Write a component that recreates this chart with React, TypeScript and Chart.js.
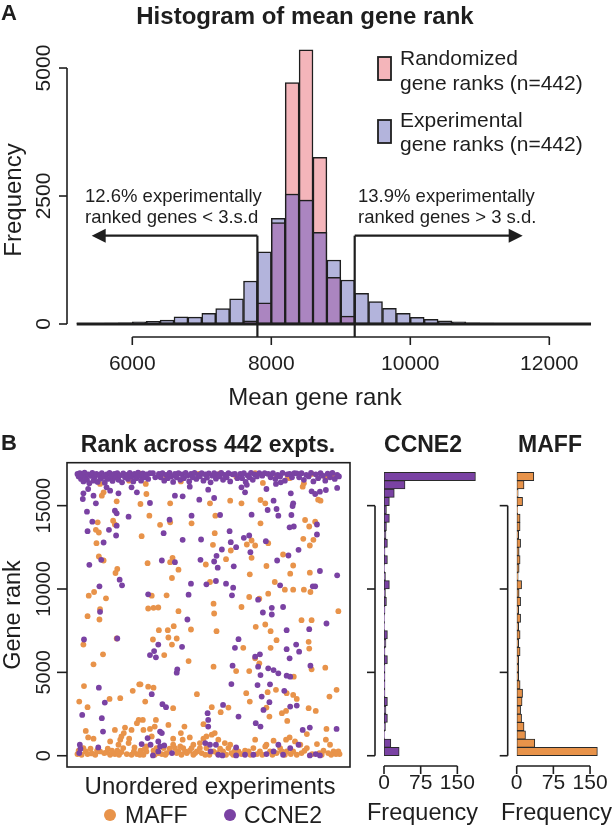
import React, { useEffect, useRef } from "react";
import { Chart, registerables } from "chart.js";

Chart.register(...registerables);

// ---------------- DATA ----------------
// Panel A: histogram of mean gene rank (bin width 200)
const histBinWidth = 200;
const histBinStarts = [
  5200, 5400, 5600, 5800, 6000, 6200, 6400, 6600, 6800, 7000, 7200, 7400, 7600,
  7800, 8000, 8200, 8400, 8600, 8800, 9000, 9200, 9400, 9600, 9800, 10000, 10200,
  10400, 10600, 10800, 11000, 11200, 11400, 11600, 11800, 12000, 12200, 12400,
];
const experimentalFreq = [
  8, 10, 18, 25, 40, 50, 75, 140, 135, 210, 300, 490, 840,
  1410, 2065, 2540, 2420, 1790, 1250, 860, 600, 436, 306, 208, 130, 91,
  60, 40, 25, 18, 14, 11, 9, 7, 6, 5, 4,
];
const randomizedFreq = [
  0, 0, 0, 0, 0, 0, 0, 0, 3, 6, 12, 25, 60,
  415, 1980, 4715, 5355, 3255, 910, 155, 20, 6, 3, 2, 1, 0,
  0, 0, 0, 0, 0, 0, 0, 0, 0, 0, 0,
];
const histXTicks = [6000, 8000, 10000, 12000];
const histYTicks = [0, 2500, 5000];
const cutLow = 7800;
const cutHigh = 9200;
const arrowLevel = 1725;
const arrowTipLow = 5416;
const arrowTipHigh = 11617;

// Panel B: ranks of two genes across 442 experiments  [experiment, rank]
const ccne2TopBand = [
  [1,16900],[3,16750],[5,16950],[7,16600],[9,16820],[11,16450],[13,16980],[15,16700],[17,16550],[19,16880],
  [21,16350],[24,16780],[26,16960],[28,16500],[30,16700],[33,16900],[35,16420],[38,16830],[40,16620],[42,16950],
  [45,16720],[47,16380],[50,16880],[52,16600],[55,16970],[58,16750],[60,16480],[63,16900],[65,16680],[68,16950],
  [70,16550],[73,16820],[76,16400],[78,16930],[81,16700],[84,16850],[86,16600],[89,16960],[92,16750],[95,16450],
  [97,16900],[100,16650],[103,16980],[106,16800],[108,16500],[111,16930],[114,16700],[117,16870],[120,16600],[123,16950],
  [128,16950],[132,16700],[138,16900],[141,16700],[144,16950],[147,16500],[150,16850],[153,16650],[156,16960],[159,16750],
  [162,16420],[165,16900],[168,16700],[171,16950],[174,16550],[177,16880],[180,16650],[183,16970],[186,16800],[189,16450],
  [192,16900],[195,16700],[198,16960],[201,16600],[204,16850],[207,16750],[210,16950],[213,16500],[216,16880],[219,16680],
  [222,16940],[225,16400],[228,16800],[231,16950],[234,16620],[237,16880],[240,16750],[243,16960],[246,16550],[249,16850],
  [252,16700],[255,16950],[258,16450],[262,16880],[266,16900],[270,16650],[275,16900],[278,16650],[281,16950],[284,16420],
  [287,16820],[290,16700],[293,16960],[296,16550],[299,16880],[303,16750],[307,16950],[312,16800],[316,16950],[322,16900],
  [326,16700],[330,16950],[334,16600],[338,16850],[342,16750],[346,16960],[350,16500],[354,16880],[358,16900],[362,16700],
  [366,16950],[370,16930],[374,16700],[378,16950],[382,16550],[386,16850],[390,16750],[394,16960],[398,16450],[402,16880],
  [406,16650],[410,16950],[414,16800],[418,16500],[422,16920],[426,16700],[430,16960],[434,16600],[438,16850],[441,16750],
  [277,16100],[283,15800],[286,16250],[11,15740],[19,16000],[28,15600],[50,16100],[92,16100],
];
const ccne2Scattered = [
  [10,15400],[32,15140],[17,14640],[64,14700],[67,14540],[87,14340],[26,14040],[67,13800],[18,13470],[54,13550],
  [66,13210],[45,12790],[41,11750],[21,11450],[72,10560],[76,10220],[38,10160],[70,15740],[101,15800],[56,15900],
  [39,8630],[12,6970],[68,7030],[37,4080],[47,3190],[9,2450],[42,2250],[44,1450],[5,660],[6,420],[4,160],[36,500],
  [123,15160],[165,15600],[178,15560],[206,15360],[190,16140],[221,15960],[231,15460],[193,14400],[156,14160],[241,14440],
  [146,13350],[178,12950],[209,12970],[257,13470],[259,12810],[268,12510],[244,12370],[235,11990],[231,11650],[237,11280],
  [208,11750],[264,11360],[143,11710],[165,11610],[192,10320],[218,10280],[234,10480],[251,10320],[263,10080],[261,9620],
  [120,9680],[188,9660],
  [186,8170],[137,6670],[130,6280],[123,6040],[133,5900],[177,6530],[169,5180],[168,4980],[266,6470],[272,6990],
  [262,5400],[260,4300],[126,3690],[144,3090],[150,2910],[246,3050],[272,2350],[220,2550],[221,2150],[221,1750],
  [140,1450],[143,1360],[119,1060],[109,700],[124,660],[137,860],[140,560],[147,620],[216,760],[224,660],
  [234,660],[225,260],[238,60],[245,20],[268,500],[268,20],[160,160],[128,20],[137,260],
  [335,16300],[343,16400],[319,16000],[360,15740],[331,15300],[321,14740],[336,14800],[364,15140],[363,14980],[294,14460],
  [339,14400],[361,14440],[395,15860],[401,15700],[409,15840],[419,15940],[438,16060],[358,13700],[365,13750],[404,13870],
  [404,13270],[281,13070],[318,12870],[292,12210],[373,12350],[337,11710],[356,12010],[409,11080],[438,10820],[342,10220],
  [397,10160],[401,10160],[305,9360],[290,13210],
  [313,8590],[328,8870],[328,8470],[347,8920],[353,7530],[391,7590],[420,7930],[369,6670],[374,6240],[353,6390],
  [358,5840],[300,5940],[308,6080],[393,5400],[305,5340],[309,4840],[322,5240],[331,5140],[339,4940],[353,4800],
  [359,4740],[304,4240],[325,4280],[311,3550],[324,3210],[314,2750],[349,3890],[359,2950],[370,3010],[301,1950],
  [309,1750],[380,1550],[392,1690],[437,1610],[339,660],[359,460],[373,660],[319,100],[331,260],[347,60],
  [392,20],[402,100],[409,20],[297,60],[283,60],
];
const maffTopBand = [
  [241,16930],[30,16850],[62,16700],[104,16950],[150,16800],[205,16900],[268,16750],[300,16950],
  [336,16800],[358,16650],[395,16900],[418,16700],[432,16850],[175,16450],[88,16500],
];
const maffScattered = [
  [39,16300],[45,15800],[42,15600],[67,15260],[35,14000],[61,14100],[64,13870],[32,13550],[37,13390],[33,12750],
  [37,11950],[45,11710],[68,11200],[65,10960],[20,9600],[29,9820],[49,9440],
  [39,8790],[18,8370],[38,8170],[11,6670],[67,7030],[44,6080],[28,5480],[12,4180],[4,3250],[18,2910],[55,3410],
  [73,3450],[94,3890],[105,4280],[15,1490],[64,1550],[81,1690],[79,1360],[92,1550],[101,1950],[104,2150],[19,1100],
  [28,1020],[73,960],[88,1020],[56,860],[75,1160],[87,760],
  [116,16300],[117,15700],[107,15100],[157,15140],[224,15140],[258,15300],[122,14400],[193,13940],[157,14000],[140,13850],
  [233,14400],[109,13170],[232,13350],[229,12650],[259,12310],[251,11790],[217,11470],[161,11870],[157,11610],[171,11160],
  [119,11550],[160,10660],[224,10420],[126,9600],[151,9620],[230,9120],
  [120,8830],[129,8870],[137,8890],[171,8670],[192,7570],[231,8530],[235,7470],[138,7530],[153,7530],[163,7770],
  [154,7090],[168,7030],[128,6970],[160,6670],[147,6040],[188,5680],[230,5340],[268,5080],[107,4280],[120,4140],
  [129,4080],[115,3250],[202,3690],[162,2850],[227,2910],[242,2610],[255,2890],[213,1890],[232,1360],[227,1260],
  [111,2150],[112,1550],[123,1610],[133,2150],[131,1750],[154,1850],[181,1750],[175,1360],[190,1100],[126,1160],
  [162,1020],[178,960],[213,1020],[218,1160],[238,960],
  [313,16360],[355,16730],[382,16340],[380,16140],[406,15360],[410,15300],[309,15340],[317,15140],[277,15140],[309,13940],
  [384,14140],[401,14040],[391,13750],[381,13010],[398,12950],[392,12610],[286,12670],[294,12910],[300,12610],[322,12750],
  [294,11870],[347,12070],[319,11380],[364,11410],[291,10880],[359,10920],[392,10980],[333,10420],[350,9960],[364,9960],
  [382,9960],[393,9820],[290,9520],[322,9720],[307,9420],
  [277,8920],[301,7730],[317,7870],[326,7470],[378,8130],[395,8130],[440,8670],[336,6930],[326,6470],[390,6830],
  [391,6430],[280,6470],[300,5840],[307,5540],[290,5080],[418,5280],[395,5180],[365,4740],[335,3950],[285,3750],
  [321,3810],[364,3650],[370,3410],[425,3550],[437,3950],[353,3750],[291,3250],[319,2890],[324,2350],[345,2550],
  [352,2690],[390,2850],[402,2690],[354,2090],[420,1610],[387,1300],[300,960],[331,900],[352,960],[358,1100],
  [367,860],[419,960],[404,700],
];
const maffBottomBand = [
  [70,660],[11,460],[23,420],[15,260],[1,100],[25,140],[39,260],[46,160],[56,60],[64,100],[75,220],[84,100],
  [92,60],[101,100],[68,300],[78,460],[61,160],[3,300],[8,60],[18,100],[31,60],[34,300],[50,200],[52,420],
  [59,300],[71,60],[96,260],[106,60],[107,300],[97,500],
  [112,60],[117,260],[129,300],[143,100],[151,160],[162,660],[165,460],[171,260],[176,60],[185,160],[190,300],
  [196,60],[202,260],[207,460],[210,160],[216,60],[218,460],[230,260],[241,420],[246,260],[251,60],[255,460],
  [260,160],[272,260],[117,560],[134,460],[156,420],[174,560],[196,660],[207,760],[249,760],[258,660],[131,60],
  [146,460],[179,460],[114,400],[137,160],[149,60],[168,160],[182,260],[193,460],[199,160],[223,60],[236,160],
  [263,60],[266,300],[270,100],
  [319,660],[376,660],[426,660],[297,460],[308,260],[317,560],[325,260],[336,160],[342,460],[364,260],[378,160],
  [387,460],[415,300],[423,160],[432,260],[440,260],[442,100],[277,100],[289,260],[353,260],[283,300],[292,60],
  [303,100],[312,60],[329,60],[345,260],[350,60],[360,100],[370,60],[383,300],[396,100],[408,160],[412,60],
  [428,60],[436,100],
];
const rankTicks = [0, 5000, 10000, 15000];

// Side histograms (bin width 500, from rank 0 upward)
const sideBinWidth = 500;
const sideBinStarts = [
  0, 500, 1000, 1500, 2000, 2500, 3000, 3500, 4000, 4500, 5000, 5500, 6000, 6500, 7000, 7500, 8000,
  8500, 9000, 9500, 10000, 10500, 11000, 11500, 12000, 12500, 13000, 13500, 14000, 14500, 15000, 15500, 16000, 16500,
];
const ccne2Freq = [
  31, 14, 1, 3, 7, 4, 7, 2, 2, 2, 2, 7, 2, 4, 7, 1, 1,
  2, 5, 3, 11, 3, 1, 7, 2, 7, 4, 5, 11, 5, 11, 21, 43, 187,
];
const maffFreq = [
  165, 37, 18, 15, 10, 8, 11, 12, 7, 4, 4, 4, 7, 4, 7, 4, 8,
  4, 8, 5, 10, 3, 5, 7, 5, 8, 4, 7, 7, 2, 12, 3, 15, 35,
];
const freqTicks = [0, 75, 150];

// ---------------- STYLE ----------------
const FONT = '"Liberation Sans", Arial, Helvetica, sans-serif';
const INK = "#1e1e1e";
const PINK = "#F4B5BA";
const LAVENDER = "#B3B4DC";
const OVERLAP = "#AB85C0";
const ORANGE = "#E8934A";
const PURPLE = "#7A42A3";

function label(ctx: any, text: string, x: number, y: number, size: number, opts: any = {}) {
  const { bold = false, align = "center", rotate = false } = opts;
  ctx.save();
  ctx.translate(x, y);
  if (rotate) ctx.rotate(-Math.PI / 2);
  ctx.font = `${bold ? "bold " : ""}${size}px ${FONT}`;
  ctx.fillStyle = INK;
  ctx.textAlign = align;
  ctx.textBaseline = "alphabetic";
  ctx.fillText(text, 0, size * 0.36);
  ctx.restore();
}

function line(ctx: any, x1: number, y1: number, x2: number, y2: number, w = 1.6) {
  ctx.save();
  ctx.beginPath();
  ctx.moveTo(x1, y1);
  ctx.lineTo(x2, y2);
  ctx.lineWidth = w;
  ctx.strokeStyle = INK;
  ctx.lineCap = "butt";
  ctx.stroke();
  ctx.restore();
}

function arrowHead(ctx: any, tipX: number, y: number, dir: number) {
  ctx.save();
  ctx.beginPath();
  ctx.moveTo(tipX, y);
  ctx.lineTo(tipX - dir * 14, y - 7);
  ctx.lineTo(tipX - dir * 14, y + 7);
  ctx.closePath();
  ctx.fillStyle = INK;
  ctx.fill();
  ctx.restore();
}

function box(ctx: any, x: number, y: number, w: number, h: number, fill: string) {
  ctx.save();
  ctx.fillStyle = fill;
  ctx.fillRect(x, y, w, h);
  ctx.lineWidth = 1.8;
  ctx.strokeStyle = INK;
  ctx.strokeRect(x, y, w, h);
  ctx.restore();
}

function dot(ctx: any, x: number, y: number, r: number, fill: string) {
  ctx.save();
  ctx.beginPath();
  ctx.arc(x, y, r, 0, Math.PI * 2);
  ctx.fillStyle = fill;
  ctx.fill();
  ctx.restore();
}

// page-coordinate helpers for each canvas
function pager(chart: any, ox: number, oy: number) {
  const { x, y } = chart.scales;
  const a = chart.chartArea;
  return {
    X: (v: number) => x.getPixelForValue(v) + ox,
    Y: (v: number) => y.getPixelForValue(v) + oy,
    L: a.left + ox,
    R: a.right + ox,
    T: a.top + oy,
    B: a.bottom + oy,
  };
}

// ---------------- CHARTS ----------------
function makeTop(canvas: HTMLCanvasElement) {
  const ox = 0, oy = 0;
  const mk = (vals: number[]) => histBinStarts.map((s, i) => ({ x: s + histBinWidth / 2, y: vals[i] }));
  const overlap = experimentalFreq.map((v, i) => Math.min(v, randomizedFreq[i]));
  const decor = {
    id: "topDecor",
    afterDatasetsDraw(chart: any) {
      const ctx = chart.ctx;
      const p = pager(chart, ox, oy);
      const last = histBinStarts[histBinStarts.length - 1] + histBinWidth;
      line(ctx, p.X(histBinStarts[0]), p.Y(0), p.X(last), p.Y(0), 2.8);
    },
    afterDraw(chart: any) {
      const ctx = chart.ctx;
      const p = pager(chart, ox, oy);
      const axisX = 67;
      const axisY = 337;
      // y axis
      line(ctx, axisX, p.Y(0), axisX, p.Y(histYTicks[histYTicks.length - 1]));
      for (const t of histYTicks) {
        const py = p.Y(t);
        line(ctx, axisX - 8, py, axisX, py);
        label(ctx, String(t), 42, py, 21, { rotate: true });
      }
      // x axis
      line(ctx, p.X(histXTicks[0]), axisY, p.X(histXTicks[histXTicks.length - 1]), axisY);
      for (const t of histXTicks) {
        const px = p.X(t);
        line(ctx, px, axisY, px, axisY + 8);
        label(ctx, String(t), px, 362, 21);
      }
      label(ctx, "Frequency", 12, 200, 24, { rotate: true });
      label(ctx, "Mean gene rank", 315, 396, 24);
      label(ctx, "Histogram of mean gene rank", 305, 15, 24, { bold: true });
      label(ctx, "A", 9, 12.5, 22, { bold: true });
      // legend
      box(ctx, 378, 57, 13, 23, PINK);
      box(ctx, 378, 120, 13, 23, LAVENDER);
      label(ctx, "Randomized", 400, 57, 21, { align: "left" });
      label(ctx, "gene ranks (n=442)", 400, 82, 21, { align: "left" });
      label(ctx, "Experimental", 400, 119, 21, { align: "left" });
      label(ctx, "gene ranks (n=442)", 400, 143.5, 21, { align: "left" });
      // cut-off annotations
      const ay = p.Y(arrowLevel);
      const lx = p.X(cutLow);
      const hx = p.X(cutHigh);
      const ltip = p.X(arrowTipLow);
      const htip = p.X(arrowTipHigh);
      line(ctx, lx, ay, lx, axisY, 2.2);
      line(ctx, lx, ay, ltip + 10, ay, 2.2);
      arrowHead(ctx, ltip, ay, -1);
      line(ctx, hx, ay, hx, axisY, 2.2);
      line(ctx, hx, ay, htip - 10, ay, 2.2);
      arrowHead(ctx, htip, ay, 1);
      label(ctx, "12.6% experimentally", 85, 195.5, 18.5, { align: "left" });
      label(ctx, "ranked genes < 3.s.d", 85, 216.5, 18.5, { align: "left" });
      label(ctx, "13.9% experimentally", 358, 195.5, 18.5, { align: "left" });
      label(ctx, "ranked genes > 3 s.d.", 358, 216.5, 18.5, { align: "left" });
    },
  };
  return new Chart(canvas, {
    type: "bar",
    data: {
      datasets: [
        { label: "Overlap", data: mk(overlap), backgroundColor: OVERLAP, order: 0 },
        { label: "Experimental gene ranks (n=442)", data: mk(experimentalFreq), backgroundColor: LAVENDER, order: 1 },
        { label: "Randomized gene ranks (n=442)", data: mk(randomizedFreq), backgroundColor: PINK, order: 2 },
      ],
    },
    options: {
      responsive: false,
      animation: false,
      layout: { padding: { left: 62.8, right: 11.1, top: 37.3, bottom: 94 } },
      plugins: { legend: { display: false }, tooltip: { enabled: false }, title: { display: false } },
      datasets: {
        bar: {
          grouped: false,
          barPercentage: 1,
          categoryPercentage: 1,
          borderWidth: 1.5,
          borderColor: INK,
          borderSkipped: false,
        },
      },
      scales: {
        x: { type: "linear", min: 5000, max: 12800, offset: false, display: false },
        y: { type: "linear", min: 0, max: 5600, display: false },
      },
    },
    plugins: [decor],
  } as any);
}

function makeScatter(canvas: HTMLCanvasElement) {
  const ox = 0, oy = 420;
  const pts = (arr: number[][]) => arr.map(([x, y]) => ({ x, y }));
  const decor = {
    id: "scatterDecor",
    afterDraw(chart: any) {
      const ctx = chart.ctx;
      ctx.save();
      ctx.translate(-ox, -oy);
      const p = pager(chart, ox, oy);
      ctx.lineWidth = 1.6;
      ctx.strokeStyle = INK;
      ctx.strokeRect(p.L, p.T, p.R - p.L, p.B - p.T);
      for (const t of rankTicks) {
        const py = p.Y(t);
        line(ctx, p.L - 10, py, p.L, py);
        label(ctx, String(t), 43, py, 20, { rotate: true });
      }
      label(ctx, "Gene rank", 12, 615, 23.5, { rotate: true });
      label(ctx, "Rank across 442 expts.", 208, 443.5, 23, { bold: true });
      label(ctx, "B", 9, 442.5, 22, { bold: true });
      label(ctx, "Unordered experiments", 210, 785, 24);
      dot(ctx, 110, 815, 6, ORANGE);
      label(ctx, "MAFF", 125, 815, 23, { align: "left" });
      dot(ctx, 230, 815, 6, PURPLE);
      label(ctx, "CCNE2", 244, 815, 23, { align: "left" });
      ctx.restore();
    },
  };
  return new Chart(canvas, {
    type: "scatter",
    data: {
      datasets: [
        { label: "CCNE2", data: pts([...ccne2TopBand, ...ccne2Scattered]), backgroundColor: PURPLE, order: 0 },
        { label: "MAFF", data: pts([...maffTopBand, ...maffScattered, ...maffBottomBand]), backgroundColor: ORANGE, order: 1 },
      ],
    },
    options: {
      responsive: false,
      animation: false,
      layout: { padding: { left: 67, right: 10, top: 42.7, bottom: 69 } },
      plugins: { legend: { display: false }, tooltip: { enabled: false } },
      elements: { point: { radius: 2.9, borderWidth: 0, hoverRadius: 2.9 } },
      scales: {
        x: { type: "linear", min: -16.6, max: 459.6, display: false },
        y: { type: "linear", min: -676, max: 17576, display: false },
      },
    },
    plugins: [decor],
  } as any);
}

function makeSide(canvas: HTMLCanvasElement, counts: number[], color: string, title: string,
  ox: number, padL: number, padR: number, titleX: number, freqX: number) {
  const oy = 420;
  const decor = {
    id: "sideDecor" + title,
    afterDraw(chart: any) {
      const ctx = chart.ctx;
      ctx.save();
      ctx.translate(-ox, -oy);
      const p = pager(chart, ox, oy);
      label(ctx, title, titleX, 444, 23, { bold: true });
      const bx = p.L - 9;
      line(ctx, bx, p.Y(rankTicks[0]), bx, p.Y(rankTicks[rankTicks.length - 1]));
      for (const t of rankTicks) {
        const py = p.Y(t);
        line(ctx, bx - 8, py, bx, py);
      }
      const ay = p.B - 1;
      line(ctx, p.X(freqTicks[0]), ay, p.X(freqTicks[freqTicks.length - 1]), ay);
      for (const t of freqTicks) {
        const px = p.X(t);
        line(ctx, px, ay, px, ay + 8);
        label(ctx, String(t), px, 781.5, 21);
      }
      label(ctx, "Frequency", freqX, 811.5, 23.5);
      ctx.restore();
    },
  };
  return new Chart(canvas, {
    type: "bar",
    data: {
      datasets: [
        {
          label: title,
          data: sideBinStarts.map((s, i) => ({ y: s + sideBinWidth / 2, x: counts[i] })),
          backgroundColor: color,
          borderColor: "#2a2a2a",
          borderWidth: 1,
          borderSkipped: false,
          barPercentage: 1,
          categoryPercentage: 1,
        },
      ],
    },
    options: {
      indexAxis: "y",
      responsive: false,
      animation: false,
      layout: { padding: { left: padL, right: padR, top: 42.7, bottom: 69 } },
      plugins: { legend: { display: false }, tooltip: { enabled: false } },
      scales: {
        x: { type: "linear", min: 0, max: 200, display: false },
        y: { type: "linear", min: -676, max: 17576, offset: false, display: false },
      },
    },
    plugins: [decor],
  } as any);
}

export default function App() {
  const topRef = useRef<HTMLCanvasElement>(null);
  const scRef = useRef<HTMLCanvasElement>(null);
  const c2Ref = useRef<HTMLCanvasElement>(null);
  const mfRef = useRef<HTMLCanvasElement>(null);

  useEffect(() => {
    const charts = [
      makeTop(topRef.current as HTMLCanvasElement),
      makeScatter(scRef.current as HTMLCanvasElement),
      makeSide(c2Ref.current as HTMLCanvasElement, ccne2Freq, PURPLE, "CCNE2", 360, 24, 8.2, 423, 422.5),
      makeSide(mfRef.current as HTMLCanvasElement, maffFreq, ORANGE, "MAFF", 490, 26.7, 1.5, 550, 556.5),
    ];
    return () => charts.forEach((c) => c.destroy());
  }, []);

  const abs = (left: number, top: number) => ({ position: "absolute" as const, left, top, display: "block" });

  return (
    <div style={{ position: "fixed", left: 0, top: 0, width: 616, height: 836, background: "#fff", overflow: "hidden" }}>
      <canvas ref={topRef} width={616} height={418} style={abs(0, 0)} />
      <canvas ref={scRef} width={360} height={416} style={abs(0, 420)} />
      <canvas ref={c2Ref} width={130} height={416} style={abs(360, 420)} />
      <canvas ref={mfRef} width={126} height={416} style={abs(490, 420)} />
    </div>
  );
}
